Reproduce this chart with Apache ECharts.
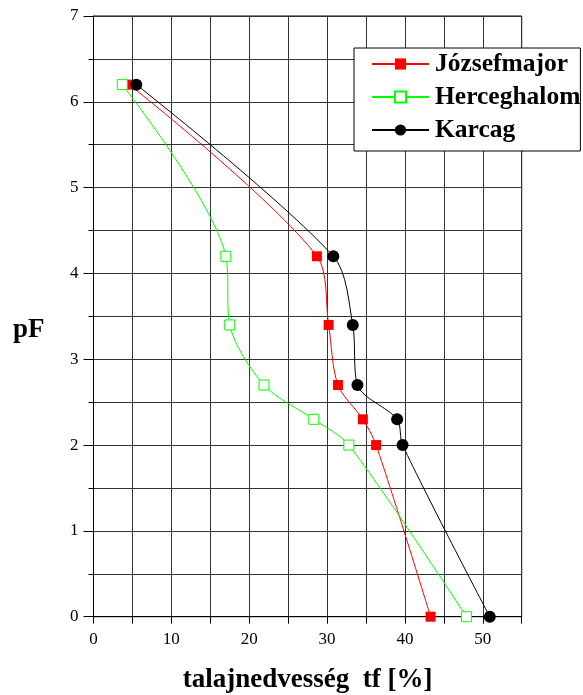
<!DOCTYPE html>
<html>
<head>
<meta charset="utf-8">
<script src="https://cdn.jsdelivr.net/npm/echarts@6/dist/echarts.min.js"></script>
<style>
html,body{margin:0;padding:0;background:#fff;}
#chart{width:583px;height:695px;}
</style>
</head>
<body>
<div id="chart"></div>
<script>
// pF ertekek (mind a harom helyszinen ugyanazok)
var pfValues = [6.2, 4.2, 3.4, 2.7, 2.3, 2.0, 0];

// talajnedvesseg tf [%]
var jozsefmajorX = [4.6, 28.7, 30.2, 31.4, 34.6, 36.3, 43.3];
var herceghalomX = [3.7, 17.0, 17.5, 21.9, 28.3, 32.8, 47.9];
var karcagX = [5.5, 30.8, 33.3, 33.9, 39.0, 39.7, 50.9];

var seriesNames = ['Józsefmajor', 'Herceghalom', 'Karcag'];

var serif = 'Liberation Serif';

pairs = function(xs, ys){
	var out = [];
	for(var i=0;i<xs.length;i++)
	{
		out.push([xs[i], ys[i]]);
	}
	return out;
}

var dom = document.getElementById("chart");
var myChart = echarts.init(dom);

var option = {
	animation: false,
	backgroundColor: '#fff',
	grid: {
		left: 93.5,
		right: 61.3,
		top: 16,
		bottom: 78.3,
		outerBoundsMode: 'none',
		containLabel: false,
		show: true,
		borderColor: '#000',
		borderWidth: 1
	},
	legend: {
		orient: 'vertical',
		left: 354,
		top: 48,
		data: seriesNames,
		backgroundColor: '#fff',
		borderColor: '#000',
		borderWidth: 1,
		borderRadius: 0,
		padding: [3, 0, 8, 17],
		itemWidth: 57,
		itemHeight: 14,
		itemGap: 7,
		textStyle: {
			fontFamily: serif,
			fontWeight: 'bold',
			fontSize: 25.5,
			lineHeight: 25,
			padding: [0, 0, 0, 1],
			color: '#000'
		}
	},
	xAxis: {
		type: 'value',
		min: 0,
		max: 55,
		interval: 5,
		name: 'talajnedvesség  tf [%]',
		nameLocation: 'middle',
		nameGap: 50,
		nameTextStyle: {
			fontFamily: serif,
			fontWeight: 'bold',
			fontSize: 27,
			color: '#000'
		},
		axisLine: {show: true, onZero: false, lineStyle: {color: '#000', width: 1}},
		axisTick: {show: true, length: 7, lineStyle: {color: '#000'}},
		axisLabel: {
			fontFamily: serif,
			fontSize: 17,
			color: '#000',
			margin: 14,
			formatter: function(v){
				return (v % 10 == 0) ? String(v) : '';
			}
		},
		splitLine: {show: true, lineStyle: {color: '#333', width: 1}}
	},
	yAxis: {
		type: 'value',
		min: 0,
		max: 7,
		interval: 1,
		axisLine: {show: true, onZero: false, lineStyle: {color: '#000', width: 1}},
		axisTick: {show: true, length: 10, lineStyle: {color: '#000'}},
		minorTick: {show: true, splitNumber: 2, length: 5, lineStyle: {color: '#000'}},
		axisLabel: {
			fontFamily: serif,
			fontSize: 17,
			color: '#000',
			margin: 15
		},
		splitLine: {show: true, lineStyle: {color: '#333', width: 1}},
		minorSplitLine: {show: true, lineStyle: {color: '#333', width: 1}}
	},
	graphic: [{
		type: 'text',
		left: 13,
		top: 317,
		style: {
			text: 'pF',
			font: 'bold 27px "Liberation Serif"',
			fill: '#000'
		}
	}],
	series: [
		{
			name: seriesNames[0],
			type: 'line',
			smooth: 0.3,
			data: pairs(jozsefmajorX, pfValues),
			symbol: 'rect',
			symbolSize: 10,
			lineStyle: {color: '#ff0000', width: 1},
			itemStyle: {color: '#ff0000', borderColor: '#ff0000', borderWidth: 0}
		},
		{
			name: seriesNames[1],
			type: 'line',
			smooth: 0.3,
			data: pairs(herceghalomX, pfValues),
			symbol: 'rect',
			symbolSize: 10,
			lineStyle: {color: '#00ff00', width: 1},
			itemStyle: {color: '#fff', borderColor: '#00ff00', borderWidth: 1}
		},
		{
			name: seriesNames[2],
			type: 'line',
			smooth: 0.3,
			data: pairs(karcagX, pfValues),
			symbol: 'circle',
			symbolSize: 12,
			lineStyle: {color: '#000', width: 1},
			itemStyle: {color: '#000', borderColor: '#000', borderWidth: 0}
		}
	]
};

myChart.setOption(option, true);
</script>
</body>
</html>
